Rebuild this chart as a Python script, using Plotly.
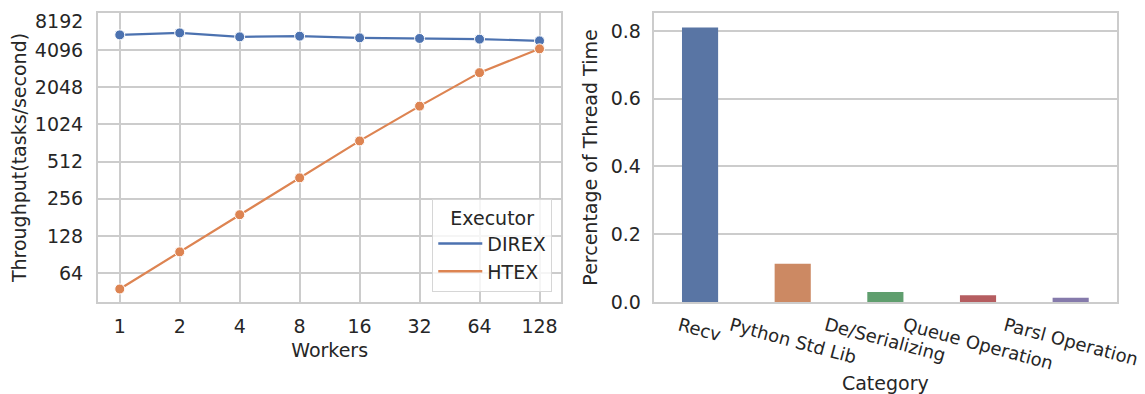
import math
import plotly.graph_objects as go

workers = [1, 2, 4, 8, 16, 32, 64, 128]
direx = [5446, 5653, 5248, 5318, 5152, 5095, 5029, 4872]
htex = [47.5, 95, 190, 378, 753, 1441, 2692, 4197]
y_ticks = [64, 128, 256, 512, 1024, 2048, 4096, 8192]

categories = ["Recv", "Python Std Lib", "De/Serializing", "Queue Operation", "Parsl Operation"]
shares = [0.81, 0.113, 0.0295, 0.0197, 0.0128]
bar_colors = ['#5975a4', '#cc8963', '#5f9e6e', '#b55d60', '#857aab']
share_ticks = [0.0, 0.2, 0.4, 0.6, 0.8]

FONT = "DejaVu Sans"
TXT = "#262626"
GRID = "#cccccc"
FS = 19
# the page body has an 8px margin, so the figure is placed at (8, 8) in the window
OFF = 8
W, H = 1145 - OFF, 394 - OFF

# plot-area edges in window pixels
LEFT, RIGHT, TOP, BOTTOM = 97.5, 1117.0, 12.7, 302.0
ML, MR, MT, MB = LEFT - OFF, W - (RIGHT - OFF), TOP - OFF, H - (BOTTOM - OFF)
PW = RIGHT - LEFT


def dx(x):
    return (x - LEFT) / PW


fig = go.Figure()
for name, vals, col in [("DIREX", direx, "#4c72b0"), ("HTEX", htex, "#dd8452")]:
    fig.add_trace(go.Scatter(x=workers, y=vals, name=name, mode="lines+markers",
                             line=dict(color=col, width=2.2),
                             marker=dict(size=10, color=col, line=dict(color="white", width=1)),
                             showlegend=False, xaxis="x", yaxis="y"))
    # legend-only entry (line sample without marker, as in the reference)
    fig.add_trace(go.Scatter(x=[None], y=[None], name=name, mode="lines",
                             line=dict(color=col, width=2.5), xaxis="x", yaxis="y"))

fig.add_trace(go.Bar(x=categories, y=shares, marker=dict(color=bar_colors, line=dict(width=0)),
                     width=0.39, showlegend=False, xaxis="x2", yaxis="y2"))

lg2 = math.log10(2)
tfont = dict(family=FONT, size=FS, color=TXT)
common = dict(showline=True, linecolor=GRID, linewidth=2, mirror=True, gridcolor=GRID, gridwidth=1.5,
              tickfont=tfont, zeroline=False, automargin=False, ticklabeloverflow="allow")
ytick = dict(ticks="outside", tickcolor="rgba(0,0,0,0)", tickwidth=1)

# the top tick label sits at the very edge of the page; it is drawn as a separate
# text just below the edge so that it is not clipped
top_tick = y_ticks[-1]
axis_ticktext = [str(v) if v != top_tick else "" for v in y_ticks]

fig.update_layout(
    width=W, height=H, margin=dict(l=ML, r=MR, t=MT, b=MB, pad=0),
    paper_bgcolor="white", plot_bgcolor="white",
    font=dict(family=FONT, color=TXT),
    xaxis=dict(domain=[0, dx(561)], anchor="y", type="log",
               range=[-0.363 * lg2, (7 + 0.363) * lg2], tickvals=workers,
               ticktext=[str(w) for w in workers], showgrid=True,
               ticks="outside", tickcolor="rgba(0,0,0,0)", ticklen=6,
               title=dict(text="Workers", font=tfont, standoff=8),
               **common),
    yaxis=dict(domain=[0, 1], anchor="x", type="log",
               range=[5.22 * lg2, 13 * lg2 + 1e-6], tickvals=y_ticks,
               ticktext=axis_ticktext, showgrid=True, ticklen=9,
               title=dict(text="Throughput(tasks/second)", font=tfont, standoff=10),
               **ytick, **common),
    xaxis2=dict(domain=[dx(653.5), 1], anchor="y2", type="category", range=[-0.5, 4.5],
                showgrid=False, showticklabels=False, ticks="",
                title=dict(text="Category", font=tfont, standoff=74),
                **common),
    yaxis2=dict(domain=[0, 1], anchor="x2", range=[0, 0.853],
                tickvals=share_ticks, ticktext=[f"{v:.1f}" for v in share_ticks],
                showgrid=True, ticklen=7,
                title=dict(text="Percentage of Thread Time", font=tfont, standoff=8),
                **ytick, **common),
    legend=dict(x=dx(552), xanchor="right", y=(BOTTOM - 292) / (BOTTOM - TOP), yanchor="bottom",
                bgcolor="rgba(255,255,255,0.8)", bordercolor="#d6d6d6", borderwidth=1,
                title=dict(text="Executor", font=tfont, side="top center"),
                font=tfont, tracegroupgap=0, itemwidth=44),
)

fig.add_annotation(x=0, xref="x domain", y=1, yref="y domain", text=str(top_tick),
                   showarrow=False, xanchor="right", yanchor="top", xshift=-14, yshift=MT - 1,
                   borderpad=0, font=tfont)

# rotated category labels, centred under each bar like matplotlib's rotation=-15
for c in categories:
    fig.add_annotation(x=c, xref="x2", y=0, yref="paper", text=c, showarrow=False,
                       textangle=15, xanchor="center", yanchor="top", yshift=-9,
                       font=dict(family=FONT, size=18, color=TXT))

fig.write_html("out.html")
